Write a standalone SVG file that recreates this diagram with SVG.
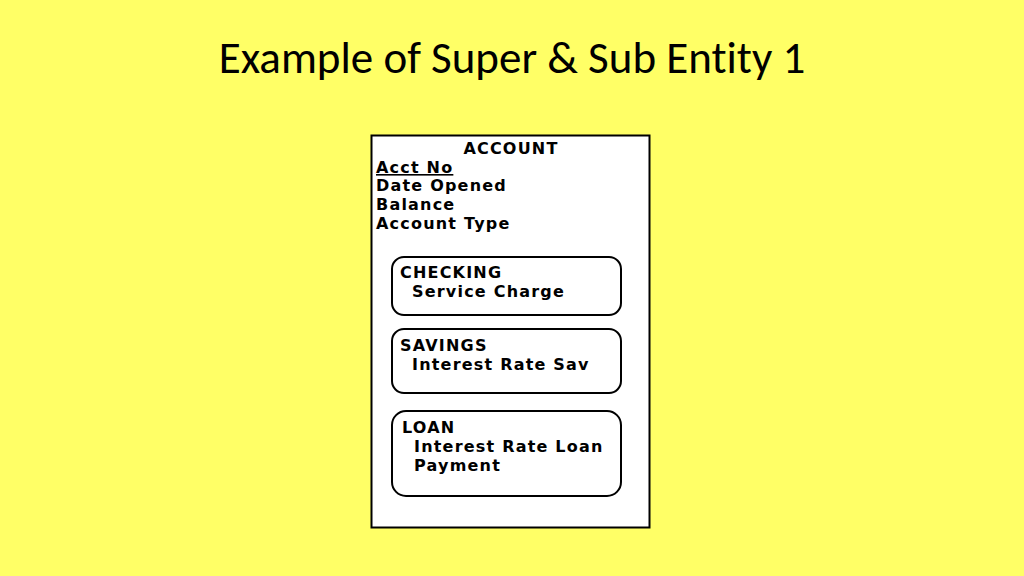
<svg xmlns="http://www.w3.org/2000/svg" width="1024" height="576" viewBox="0 0 1024 576">
<style>
.t{font-family:"DejaVu Sans",Verdana,sans-serif;font-weight:bold;font-size:16px;letter-spacing:1.2px;fill:#000}
.sub{fill:#fff;stroke:#000;stroke-width:2}
</style>
<rect width="1024" height="576" fill="#ffff66"/>
<text x="512" y="73" text-anchor="middle" font-family="Carlito,Lato,'Open Sans',sans-serif" font-size="45" fill="#000" style="font-variant-ligatures:none">Example of Super &amp; Sub Entity 1</text>
<g id="account">
<rect x="371.5" y="135.5" width="278" height="392" fill="#fff" stroke="#000" stroke-width="2"/>
<text class="t" x="511" y="154" text-anchor="middle">ACCOUNT</text>
<text class="t" x="376" y="173" text-decoration="underline">Acct No</text>
<text class="t" x="376" y="191">Date Opened</text>
<text class="t" x="376" y="210">Balance</text>
<text class="t" x="376" y="229">Account Type</text>
</g>
<g id="checking">
<rect class="sub" x="392" y="257" width="229" height="58" rx="12"/>
<text class="t" x="400" y="278">CHECKING</text>
<text class="t" x="412" y="297">Service Charge</text>
</g>
<g id="savings">
<rect class="sub" x="392" y="329" width="229" height="64" rx="12"/>
<text class="t" x="400" y="351">SAVINGS</text>
<text class="t" x="412" y="370">Interest Rate Sav</text>
</g>
<g id="loan">
<rect class="sub" x="392" y="411" width="229" height="85" rx="14"/>
<text class="t" x="402" y="433">LOAN</text>
<text class="t" x="414" y="452">Interest Rate Loan</text>
<text class="t" x="414" y="471">Payment</text>
</g>
<g id="connectors"/>
</svg>
